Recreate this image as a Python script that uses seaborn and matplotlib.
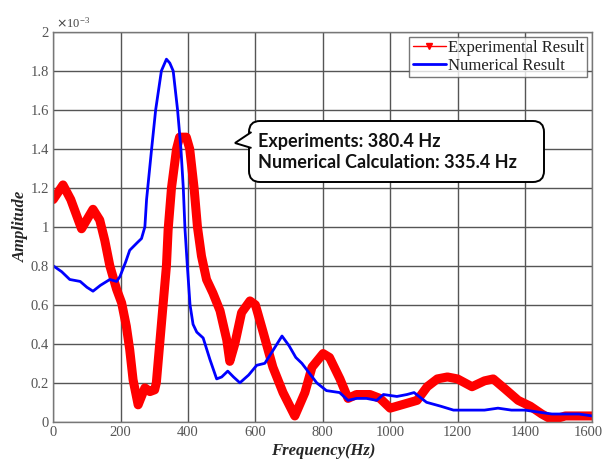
import matplotlib
matplotlib.use("Agg")
import matplotlib.pyplot as plt
import seaborn as sns
import pandas as pd
from matplotlib.lines import Line2D
from matplotlib.patches import FancyBboxPatch, Polygon
from matplotlib.transforms import offset_copy

# ---- data (amplitude in units of 1e-3) ----
exp_freq = [0, 29, 52, 84, 118, 138, 153, 168, 188, 203, 217, 227, 237, 252, 272, 287,
            301, 306, 316, 326, 336, 341, 351, 366, 375, 395, 405, 418, 428, 440, 455,
            474, 495, 515, 524, 539, 559, 584, 600, 623, 652, 682, 717, 747, 768, 801,
            820, 851, 875, 900, 940, 970, 1000, 1040, 1080, 1110, 1140, 1170, 1200, 1243,
            1280, 1306, 1340, 1380, 1416, 1450, 1481, 1520, 1560, 1600]
exp_amp = [1.14, 1.215, 1.14, 0.99, 1.09, 1.035, 0.93, 0.80, 0.68, 0.61, 0.49, 0.37,
           0.215, 0.087, 0.174, 0.155, 0.164, 0.20, 0.40, 0.60, 0.80, 0.985, 1.20, 1.40,
           1.46, 1.46, 1.40, 1.20, 1.00, 0.85, 0.73, 0.66, 0.57, 0.42, 0.31, 0.40, 0.56,
           0.62, 0.60, 0.46, 0.28, 0.15, 0.03, 0.15, 0.28, 0.35, 0.33, 0.22, 0.12, 0.14,
           0.14, 0.12, 0.07, 0.09, 0.11, 0.18, 0.22, 0.23, 0.22, 0.18, 0.21, 0.22, 0.17,
           0.11, 0.08, 0.04, 0.01, 0.03, 0.03, 0.03]

num_freq = [0, 25, 49, 80, 100, 118, 140, 168, 188, 198, 215, 227, 250, 262, 272, 277,
            292, 304, 321, 336, 346, 356, 369, 379, 386, 391, 398, 406, 415, 426, 445,
            465, 485, 500, 518, 535, 554, 580, 604, 628, 650, 679, 700, 720, 738, 760,
            782, 811, 850, 875, 900, 930, 960, 980, 1020, 1050, 1071, 1108, 1150, 1188,
            1230, 1280, 1320, 1360, 1400, 1440, 1480, 1520, 1560, 1600]
num_amp = [0.80, 0.77, 0.73, 0.72, 0.69, 0.67, 0.70, 0.73, 0.72, 0.745, 0.82, 0.88,
           0.92, 0.94, 1.00, 1.14, 1.40, 1.60, 1.80, 1.86, 1.84, 1.80, 1.60, 1.40, 1.20,
           0.99, 0.80, 0.60, 0.50, 0.46, 0.43, 0.32, 0.22, 0.23, 0.26, 0.23, 0.20, 0.24,
           0.29, 0.30, 0.36, 0.44, 0.39, 0.33, 0.30, 0.25, 0.20, 0.16, 0.15, 0.11, 0.12,
           0.12, 0.11, 0.14, 0.13, 0.14, 0.15, 0.10, 0.08, 0.06, 0.06, 0.06, 0.07, 0.06,
           0.06, 0.05, 0.04, 0.04, 0.04, 0.03]

x_ticks = [0, 200, 400, 600, 800, 1000, 1200, 1400, 1600]
y_ticks = [0, 0.2, 0.4, 0.6, 0.8, 1, 1.2, 1.4, 1.6, 1.8, 2]
labels = ["Experimental Result", "Numerical Result"]
note_lines = ["Experiments: 380.4 Hz", "Numerical Calculation: 335.4 Hz"]

df_exp = pd.DataFrame({"f": exp_freq, "a": exp_amp})
df_num = pd.DataFrame({"f": num_freq, "a": num_amp})

sns.set_style("white")
serif = ["Liberation Serif", "DejaVu Serif"]

fig = plt.figure(figsize=(6.05, 4.62), dpi=100)
ax = fig.add_axes([0.088, 0.087, 0.891, 0.844])

sns.lineplot(data=df_exp, x="f", y="a", ax=ax, color="#ff0000", lw=6.5,
             sort=False, estimator=None, solid_capstyle="round", solid_joinstyle="round")
sns.lineplot(data=df_num, x="f", y="a", ax=ax, color="#0000ff", lw=2,
             sort=False, estimator=None, solid_joinstyle="round")

ax.set_xlim(0, 1600)
ax.set_ylim(0, 2)
ax.set_xticks(x_ticks)
ax.set_yticks(y_ticks)
ax.set_xticklabels([str(v) for v in x_ticks], fontfamily=serif, fontsize=10.5, color="#555555")
ax.set_yticklabels([("%g" % v) for v in y_ticks], fontfamily=serif, fontsize=10.5, color="#555555")
ax.tick_params(length=0, pad=3)
last = ax.get_xticklabels()[-1]
last.set_transform(offset_copy(last.get_transform(), fig=fig, x=-4, units="dots"))
ax.grid(True, color="#555555", lw=1)
ax.set_axisbelow(True)
for s in ax.spines.values():
    s.set_color("#777777")
    s.set_linewidth(1)

ax.set_xlabel("Frequency(Hz)", fontfamily=serif, fontsize=12, fontweight="bold",
              fontstyle="italic", labelpad=3)
ax.set_ylabel("Amplitude", fontfamily=serif, fontsize=12, fontweight="bold",
              fontstyle="italic", labelpad=1)

ax.text(0.005, 1.003, r"$\times\mathregular{10^{-3}}$", transform=ax.transAxes,
        fontfamily=serif, fontsize=9, color="#444444", va="bottom", ha="left")

handles = [Line2D([0], [0], color="#ff0000", lw=1, marker="v", markersize=4),
           Line2D([0], [0], color="#0000ff", lw=2)]
leg = ax.legend(handles, labels, loc="upper right", bbox_to_anchor=(1.0, 1.0),
                prop={"family": serif, "size": 12}, fancybox=False, frameon=True,
                borderpad=0.2, handlelength=2.0, handletextpad=0.1, labelspacing=0.1,
                borderaxespad=0.3)
leg.get_frame().set_edgecolor("#555555")
leg.get_frame().set_linewidth(1)
for t in leg.get_texts():
    t.set_color("#222222")

# ---- callout (figure inches, 1 in = 100 px) ----
tr = fig.dpi_scale_trans
box = FancyBboxPatch((2.49, 2.80), 2.95, 0.61,
                     boxstyle="round,pad=0,rounding_size=0.11",
                     fc="white", ec="black", lw=1.4, transform=tr, zorder=5)
fig.add_artist(box)
ptr = Polygon([(2.515, 3.30), (2.35, 3.19), (2.515, 3.14)], closed=False,
              fc="white", ec="black", lw=1.4, transform=tr, zorder=6)
fig.add_artist(ptr)
fig.text(2.58, 3.20, note_lines[0], transform=tr, fontfamily=["Lato", "DejaVu Sans"],
         fontsize=13, fontweight="bold", va="center", ha="left", zorder=7, color="#111111")
fig.text(2.58, 3.00, note_lines[1], transform=tr, fontfamily=["Lato", "DejaVu Sans"],
         fontsize=13, fontweight="bold", va="center", ha="left", zorder=7, color="#111111")

fig.savefig("out.png", dpi=100)
